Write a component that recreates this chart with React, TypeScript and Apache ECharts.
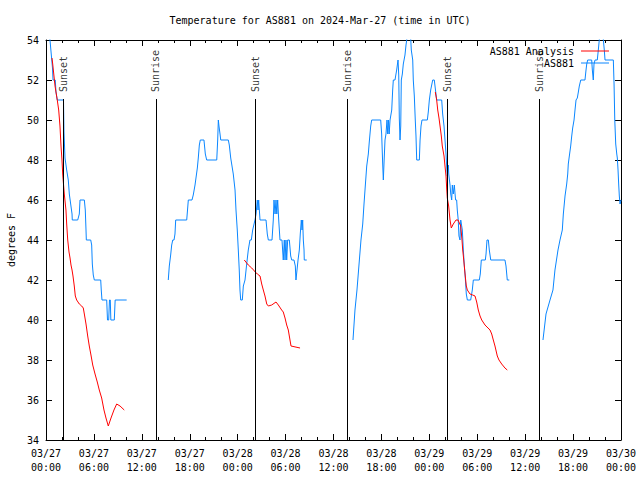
import React, { useEffect, useRef } from "react";
import * as echarts from "echarts";

// hours since 2024-03-27 00:00 UTC, temperature in °F
const obsSeg1: [number, number][] = [
  [0.0, 55.6], [0.5, 54], [0.81, 52.6], [0.88, 52], [1.16, 52], [1.25, 51.4], [1.41, 51], [2.19, 51],
  [2.25, 49.4], [2.38, 48.1], [2.59, 47.5], [2.79, 47], [2.92, 46.3], [3.09, 45.8], [3.26, 45.3], [3.29, 45],
  [3.97, 45], [4.17, 45.3], [4.26, 46], [4.8, 46], [4.92, 45.5], [5.01, 44.5], [5.05, 44], [5.6, 44],
  [5.72, 43.75], [5.8, 42.8], [5.92, 42.25], [6.05, 42], [6.85, 42], [6.92, 41.5], [7.01, 41], [7.6, 41],
  [7.7, 40], [7.85, 40], [7.95, 41], [8.05, 41], [8.12, 40], [8.55, 40], [8.66, 41], [10.1, 41],
];
const obsSeg2: [number, number][] = [
  [15.31, 42], [15.44, 42.7], [15.61, 43.25], [15.74, 43.75], [15.87, 44], [16.03, 44], [16.15, 44.3], [16.24, 45],
  [17.62, 45], [17.74, 45.6], [17.82, 46], [18.28, 46], [18.44, 46.25], [18.66, 46.75], [18.78, 47.1], [18.95, 47.6],
  [19.07, 48.1], [19.2, 48.75], [19.32, 49], [19.78, 49], [19.95, 48.3], [20.12, 48], [21.38, 48], [21.5, 49],
  [21.58, 50], [21.66, 49.7], [21.79, 49.3], [21.88, 49], [22.83, 49], [22.95, 48.75], [23.13, 48.1], [23.25, 47.8],
  [23.45, 47.3], [23.67, 46.5], [23.79, 45.5], [23.95, 44.5], [24.08, 43.5], [24.2, 42.5], [24.29, 41.5], [24.38, 41],
  [24.58, 41], [24.71, 41.7], [24.92, 42], [25.13, 42.8], [25.33, 43.5], [25.54, 44], [25.71, 44], [25.88, 44.5],
  [26.05, 44.8], [26.17, 45], [26.3, 45.3], [26.46, 46], [26.55, 45.5], [26.63, 46], [26.8, 45], [27.55, 45],
  [27.71, 44.3], [27.84, 44], [28.3, 44], [28.46, 45], [28.55, 46], [28.68, 45.3], [28.8, 46], [28.9, 45.3],
  [29.01, 46], [29.14, 45], [29.3, 44], [29.55, 44], [29.71, 43], [29.84, 44], [29.93, 43], [30.05, 44],
  [30.14, 43], [30.26, 44], [30.47, 44], [30.64, 43.2], [30.77, 43], [31.05, 43], [31.22, 42.7], [31.3, 42],
  [31.43, 42.5], [31.56, 43], [31.72, 43.5], [31.84, 44.3], [31.97, 45], [32.06, 44.5], [32.14, 45], [32.22, 44],
  [32.31, 43.5], [32.34, 43], [32.65, 43],
];
const obsSeg3: [number, number][] = [
  [38.44, 39], [38.69, 40.5], [38.94, 41.5], [39.19, 42.75], [39.44, 44], [39.66, 44.8], [39.82, 45.8], [39.98, 46.7],
  [40.16, 47.7], [40.36, 48.3], [40.48, 48.9], [40.66, 49.7], [40.78, 50], [41.91, 50], [42.03, 49.3], [42.16, 47.8],
  [42.24, 47], [42.32, 47.8], [42.45, 49], [42.57, 49.3], [42.7, 50], [42.79, 49.3], [42.89, 50], [42.97, 49.3],
  [43.08, 50], [43.29, 50.5], [43.41, 51.5], [43.49, 52], [43.7, 52], [43.91, 52.5], [44.08, 53], [44.17, 52.25],
  [44.24, 50.1], [44.33, 49], [44.42, 49.7], [44.49, 52], [44.62, 52.3], [44.74, 52.8], [44.95, 53.25], [45.08, 53.75],
  [45.17, 54], [45.35, 55], [45.55, 55], [45.74, 53.5], [45.92, 53], [45.99, 52], [46.12, 51.2], [46.24, 50],
  [46.33, 49.2], [46.42, 48], [46.75, 48], [46.84, 49], [46.96, 49.7], [47.08, 50], [47.75, 50], [47.87, 50.4],
  [48.0, 51], [48.17, 51.5], [48.42, 52], [48.62, 52], [48.8, 51.4], [48.92, 51], [49.55, 51], [49.67, 50.3],
  [49.84, 49.7], [49.96, 49], [50.09, 48.3], [50.17, 47.7], [50.25, 47.2], [50.38, 47.75], [50.43, 47.3], [50.59, 46.75],
  [50.68, 46.3], [50.8, 46], [50.88, 46.75], [51.0, 46.3], [51.13, 46.75], [51.22, 46.3], [51.29, 46], [51.42, 46],
  [51.5, 45.5], [51.62, 45], [51.71, 44.2], [51.84, 44], [51.93, 45], [52.13, 44.5], [52.26, 43.5], [52.38, 42.7],
  [52.47, 42.3], [52.55, 41.8], [52.63, 41.3], [52.76, 41], [53.18, 41], [53.38, 41.5], [53.51, 42], [54.26, 42],
  [54.38, 42.3], [54.51, 43], [55.01, 43], [55.1, 43.3], [55.22, 44], [55.39, 44], [55.51, 43.5], [55.69, 43],
  [57.47, 43], [57.6, 42.7], [57.76, 42], [58.01, 42],
];
const obsSeg4: [number, number][] = [
  [62.23, 39], [62.61, 40.3], [63.11, 41], [63.48, 41.5], [63.73, 42.5], [64.11, 43.5], [64.36, 44], [64.65, 44.5],
  [64.78, 45.3], [64.99, 46.2], [65.2, 46.8], [65.33, 47.3], [65.4, 47.8], [65.53, 48.2], [65.7, 48.7], [65.83, 49.2],
  [65.95, 49.6], [66.12, 50], [66.24, 50.5], [66.37, 51], [66.53, 51.1], [66.66, 51.4], [66.78, 51.7], [66.96, 52],
  [67.49, 52], [67.62, 52.5], [67.71, 52.8], [67.83, 53], [68.33, 53], [68.41, 52.5], [68.53, 52], [68.62, 52.8],
  [68.75, 53], [69.03, 53], [69.16, 53.5], [69.28, 54], [69.45, 55], [69.65, 55], [69.79, 54], [69.91, 53.5],
  [70.0, 53], [71.04, 53], [71.13, 51.8], [71.22, 50], [71.34, 48.8], [71.47, 48.3], [71.54, 48.1], [71.63, 47.5],
  [71.71, 46.8], [71.79, 46.2], [71.88, 45.8], [72.0, 46],
];

const anaSeg1: [number, number][] = [
  [0.75, 53.1], [0.84, 52.8], [1.13, 51.7], [1.41, 51], [1.59, 50.5], [1.75, 49.7], [1.88, 48.7], [2.0, 48],
  [2.09, 47.3], [2.29, 46.3], [2.5, 45.5], [2.59, 44.8], [2.72, 44], [2.88, 43.4], [3.01, 43.1], [3.13, 42.75],
  [3.26, 42.5], [3.38, 42.2], [3.54, 41.7], [3.67, 41.2], [3.84, 41.0], [4.17, 40.8], [4.47, 40.7], [4.67, 40.6],
  [4.8, 40.3], [5.01, 39.8], [5.22, 39.2], [5.42, 38.7], [5.63, 38.25], [5.85, 37.75], [6.14, 37.3], [6.42, 36.9],
  [6.67, 36.5], [6.97, 36.1], [7.26, 35.5], [7.51, 35.1], [7.8, 34.7], [8.14, 35.1], [8.51, 35.5], [8.85, 35.8],
  [9.27, 35.7], [9.8, 35.5],
];
const anaSeg2: [number, number][] = [
  [24.83, 43.0], [25.33, 42.75], [25.76, 42.6], [26.21, 42.4], [26.46, 42.3], [26.8, 42.2], [27.01, 41.8], [27.21, 41.5],
  [27.42, 41.2], [27.64, 40.8], [27.84, 40.7], [28.26, 40.75], [28.8, 40.9], [29.09, 40.75], [29.51, 40.5], [29.71, 40.4],
  [29.93, 40.1], [30.14, 39.75], [30.34, 39.5], [30.68, 38.7], [31.81, 38.6],
];
const anaSeg3: [number, number][] = [
  [48.75, 51.4], [48.92, 51], [49.05, 50.5], [49.21, 50.1], [49.34, 49.7], [49.5, 49.2], [49.62, 48.7], [49.84, 48.2],
  [49.96, 47.7], [50.09, 47.2], [50.17, 46.6], [50.25, 46.1], [50.42, 45.7], [50.59, 45.0], [50.75, 44.6], [51.0, 44.8],
  [51.34, 45], [51.59, 45], [51.93, 44.7], [52.09, 44], [52.18, 43.5], [52.26, 43.2], [52.38, 42.7], [52.47, 42.3],
  [52.55, 42], [52.63, 41.7], [52.76, 41.5], [53.09, 41.3], [53.43, 41.25], [53.72, 41.2], [53.93, 40.9], [54.13, 40.5],
  [54.35, 40.2], [54.56, 40.0], [54.97, 39.75], [55.6, 39.5], [55.81, 39.3], [56.01, 39.0], [56.22, 38.7], [56.51, 38.2],
  [56.72, 38.0], [57.06, 37.8], [57.47, 37.6], [57.76, 37.5],
];

const eventHours = [2.2, 13.77, 26.22, 37.75, 50.25, 61.77];
const eventNames = ["Sunset", "Sunrise", "Sunset", "Sunrise", "Sunset", "Sunrise"];
const eventLineTop = 51.05;
const eventLabelBase = 51.4;

const xTickLabels = [
  "03/27\n00:00", "03/27\n06:00", "03/27\n12:00", "03/27\n18:00",
  "03/28\n00:00", "03/28\n06:00", "03/28\n12:00", "03/28\n18:00",
  "03/29\n00:00", "03/29\n06:00", "03/29\n12:00", "03/29\n18:00",
  "03/30\n00:00",
];

const FONT = "'DejaVu Sans Mono', monospace";
const BLUE = "#0a86ff";
const RED = "#ff0000";

const withGaps = (segs: [number, number][][]) => {
  const out: any[] = [];
  segs.forEach((s, i) => {
    if (i > 0) out.push([s[0][0] - 0.01, "-"]);
    s.forEach((p) => out.push(p));
  });
  return out;
};

export default function App() {
  const ref = useRef<HTMLDivElement>(null);
  useEffect(() => {
    if (!ref.current) return;
    const chart = echarts.init(ref.current, undefined, { renderer: "svg" });
    const xCommon = {
      type: "value" as const,
      min: 0,
      max: 72,
      interval: 6,
      splitLine: { show: false },
      axisLine: { show: true, onZero: false, lineStyle: { color: "#000", width: 1 } },
      axisTick: { show: true, inside: true, length: 6, lineStyle: { color: "#000" } },
      minorTick: { show: true, splitNumber: 3, length: 3, lineStyle: { color: "#000" } },
    };
    const yCommon = {
      type: "value" as const,
      min: 34,
      max: 54,
      interval: 2,
      splitLine: { show: false },
      axisLine: { show: true, onZero: false, lineStyle: { color: "#000", width: 1 } },
      axisTick: { show: true, inside: true, length: 6, lineStyle: { color: "#000" } },
    };
    chart.setOption({
      animation: false,
      backgroundColor: "#fff",
      textStyle: { fontFamily: FONT, fontSize: 10, color: "#000" },
      title: {
        text: "Temperature for AS881 on 2024-Mar-27 (time in UTC)",
        left: "center",
        top: 14,
        padding: 0,
        textStyle: { fontFamily: FONT, fontSize: 10, fontWeight: "normal", color: "#000", lineHeight: 12 },
      },
      legend: {
        data: ["AS881 Analysis", "AS881"],
        orient: "vertical",
        right: 31,
        top: 45,
        padding: 0,
        itemGap: 0,
        align: "right",
        icon: "rect",
        itemWidth: 28,
        itemHeight: 1,
        textStyle: { fontFamily: FONT, fontSize: 10, color: "#000", lineHeight: 12, padding: [0, 2, 0, 0] },
      },
      grid: { left: 46, right: 19, top: 40, bottom: 40, containLabel: false, outerBoundsMode: "none" },
      xAxis: [
        {
          ...xCommon,
          position: "bottom",
          axisLabel: {
            show: true,
            margin: 6,
            fontFamily: FONT,
            fontSize: 10,
            color: "#000",
            lineHeight: 14,
            formatter: (v: number) => xTickLabels[Math.round(v / 6)] ?? "",
          },
        },
        { ...xCommon, position: "top", axisLabel: { show: false } },
      ],
      yAxis: [
        {
          ...yCommon,
          position: "left",
          name: "degrees F",
          nameLocation: "middle",
          nameGap: 30,
          nameRotate: 90,
          nameTextStyle: { fontFamily: FONT, fontSize: 10, color: "#000" },
          axisLabel: { show: true, margin: 7, fontFamily: FONT, fontSize: 10, color: "#000" },
        },
        { ...yCommon, position: "right", axisLabel: { show: false } },
      ],
      series: [
        {
          name: "AS881 Analysis",
          type: "line",
          data: withGaps([anaSeg1, anaSeg2, anaSeg3]),
          symbol: "none",
          connectNulls: false,
          lineStyle: { color: RED, width: 1 },
          itemStyle: { color: RED },
          z: 3,
        },
        {
          name: "AS881",
          type: "line",
          data: withGaps([obsSeg1, obsSeg2, obsSeg3, obsSeg4]),
          symbol: "none",
          connectNulls: false,
          lineStyle: { color: BLUE, width: 1 },
          itemStyle: { color: BLUE },
          z: 2,
        },
        {
          name: "events",
          type: "scatter",
          symbolSize: 0,
          silent: true,
          data: eventHours.map((h, i) => ({ value: [h, eventLabelBase], name: eventNames[i] })),
          label: {
            show: true,
            position: "inside",
            rotate: 90,
            align: "left",
            verticalAlign: "middle",
            formatter: (p: any) => p.name,
            fontFamily: FONT,
            fontSize: 10,
            color: "#000",
          },
          markLine: {
            silent: true,
            symbol: "none",
            label: { show: false },
            lineStyle: { color: "#000", width: 1, type: "solid" },
            data: eventHours.map((h) => [{ coord: [h, 34] }, { coord: [h, eventLineTop] }]),
          },
          z: 1,
        },
      ],
    });
    return () => chart.dispose();
  }, []);
  return <div ref={ref} style={{ position: "fixed", left: 0, top: 0, width: 640, height: 480 }} />;
}
